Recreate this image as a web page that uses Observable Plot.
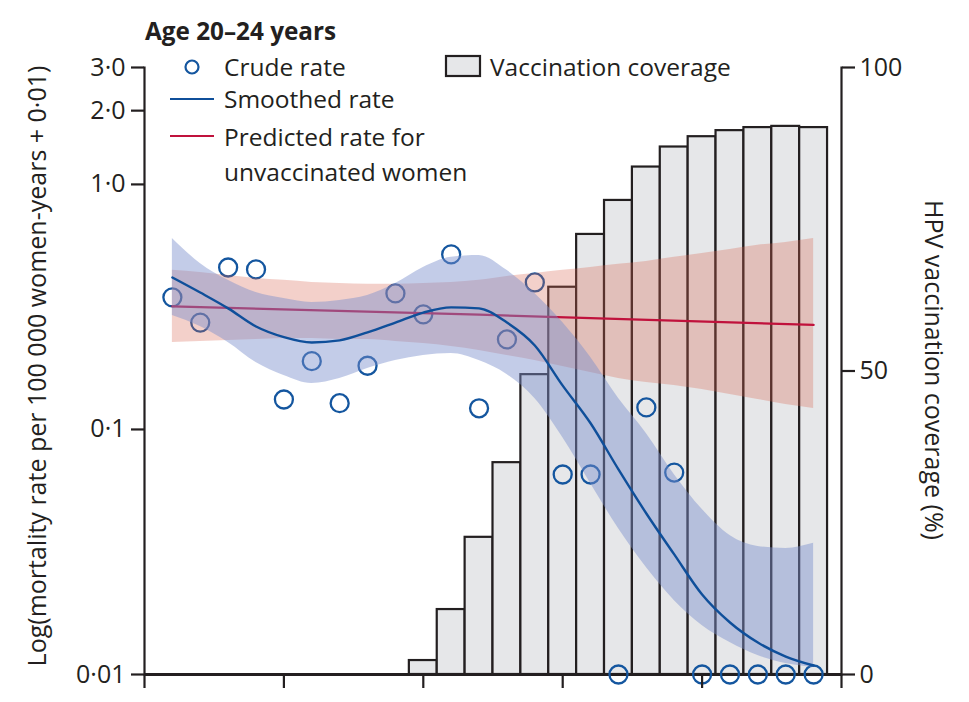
<!DOCTYPE html>
<html>
<head>
<meta charset="utf-8">
<script src="https://cdn.jsdelivr.net/npm/d3@7"></script>
<script src="https://cdn.jsdelivr.net/npm/@observablehq/plot@0.6"></script>
<style>
  body { margin: 0; background: #fff; }
  #chart { position: relative; width: 969px; height: 702px; overflow: hidden; font-family: "Open Sans", sans-serif; color: #231f20; }
  #chart > svg { position: absolute; left: 0; top: 0; }
</style>
</head>
<body>
<div id="chart"></div>
<script>
// ---------- data ----------
const years = [1996,1997,1998,1999,2000,2001,2002,2003,2004,2005,2006,2007,2008,2009,2010,2011,2012,2013,2014,2015,2016,2017,2018,2019];
// crude mortality rate per 100 000 women-years
const crudeRate = [0.336,0.263,0.448,0.440,0.1225,0.180,0.118,0.172,0.349,0.285,0.508,0.112,0.223,0.388,0.0555,0.0555,0,0.113,0.0567,0,0,0,0,0];
// smoothed rate and its band
const smoothedRate  = [0.407,0.352,0.302,0.253,0.228,0.2165,0.221,0.239,0.263,0.290,0.305,0.302,0.263,0.210,0.141,0.096,0.0587,0.0354,0.0209,0.0112,0.0063,0.0035,0.00184,0.00088];
const smoothedUpper = [0.592,0.466,0.396,0.352,0.3325,0.320,0.326,0.342,0.384,0.448,0.494,0.503,0.436,0.349,0.263,0.187,0.124,0.0863,0.0555,0.0372,0.0269,0.0233,0.0227,0.0243];
const smoothedLower = [0.282,0.253,0.2165,0.1777,0.156,0.144,0.1515,0.1674,0.1812,0.1904,0.1942,0.1812,0.1577,0.1238,0.0827,0.0502,0.0294,0.0173,0.01005,0.00585,0.00351,0.00195,0.00109,0.00068];
// predicted rate for unvaccinated women and its band
const predictedYears = [1996,2007,2019];
const predictedRate  = [0.308,0.284,0.257];
const predictedUpper = [0.436,0.427,0.415,0.403,0.396,0.388,0.384,0.381,0.381,0.384,0.388,0.396,0.411,0.423,0.436,0.448,0.462,0.475,0.494,0.513,0.533,0.554,0.570,0.592];
const predictedLower = [0.2165,0.2187,0.2208,0.2229,0.2251,0.2251,0.2229,0.2229,0.2187,0.2144,0.2082,0.2002,0.1904,0.1812,0.1707,0.1608,0.1515,0.1455,0.1412,0.1356,0.1289,0.1226,0.1165,0.1118];
// HPV vaccination coverage (%)
const coverageYears = [2005,2006,2007,2008,2009,2010,2011,2012,2013,2014,2015,2016,2017,2018,2019];
const coverage      = [2.3,10.7,22.6,34.9,49.4,63.8,72.5,78.1,83.6,86.9,88.6,89.6,90.1,90.3,90.1];
// axes
const xTicks = [1995,2000,2005,2010,2015,2020];
const yTicks = [0.01,0.1,1,2,3];
const yTickLabels = ["0·01","0·1","1·0","2·0","3·0"];
const covTicks = [0,50,100];
const offset = 0.01; // log(rate + 0·01)

// ---------- layout ----------
const W = 969, H = 702;
const M = {left: 144, right: 128, top: 67, bottom: 28};
const ink = "#231f20";
const blue = "#14569f", lineBlue = "#0f4f9a", crimson = "#c0123c";
const font = "'Open Sans', sans-serif";
const tickFs = 25;

const rows = years.map((year, i) => ({
  year,
  crude: crudeRate[i] + offset,
  smooth: smoothedRate[i] + offset,
  sLo: smoothedLower[i] + offset,
  sHi: smoothedUpper[i] + offset,
  pLo: predictedLower[i] + offset,
  pHi: predictedUpper[i] + offset
}));
const predRows = predictedYears.map((year, i) => ({year, v: predictedRate[i] + offset}));
const covRows = coverageYears.map((year, i) => ({year, cov: coverage[i]}));

const common = {
  width: W, height: H,
  marginLeft: M.left, marginRight: M.right, marginTop: M.top, marginBottom: M.bottom,
  style: {background: "transparent", fontFamily: font, fontSize: tickFs + "px", color: ink, overflow: "visible"}
};

// bars + right axis (linear coverage scale)
const barPlot = Plot.plot({
  ...common,
  x: {domain: [1995, 2020], axis: null},
  y: {domain: [0, 100], axis: null},
  marks: [
    Plot.rect(covRows, {x1: d => d.year - 0.5, x2: d => d.year + 0.5, y1: 0, y2: "cov", fill: "#e6e7e9", stroke: ink, strokeWidth: 2.2}),
    Plot.ruleY([0], {stroke: ink, strokeWidth: 3}),
    Plot.frame({anchor: "right", stroke: ink, strokeWidth: 2.2}),
    Plot.axisY({anchor: "right", ticks: covTicks, tickSize: 13, tickPadding: 5, label: null, stroke: ink, strokeWidth: 2.2, fontSize: tickFs, fill: ink})
  ]
});

// rates (log scale) + left axis
const ratePlot = Plot.plot({
  ...common,
  x: {domain: [1995, 2020]},
  y: {type: "log", domain: [0.01, 3]},
  marks: [
    Plot.dot(rows, {x: "year", y: "crude", r: 9, stroke: blue, strokeWidth: 2.3, fill: "none"}),
    Plot.areaY(rows, {x: "year", y1: "pLo", y2: "pHi", fill: "rgb(214,100,79)", fillOpacity: 0.3, curve: "monotone-x"}),
    Plot.line(predRows, {x: "year", y: "v", stroke: crimson, strokeWidth: 2.3}),
    Plot.areaY(rows, {x: "year", y1: "sLo", y2: "sHi", fill: "rgb(122,141,204)", fillOpacity: 0.45, curve: "monotone-x"}),
    Plot.line(rows, {x: "year", y: "smooth", stroke: lineBlue, strokeWidth: 2.4, curve: "monotone-x"}),
    Plot.frame({anchor: "left", stroke: ink, strokeWidth: 2.2}),
    Plot.axisY({ticks: yTicks, tickFormat: d => yTickLabels[yTicks.indexOf(d)], tickSize: 13, tickPadding: 6, label: null, stroke: ink, strokeWidth: 2.2, fontSize: tickFs, fill: ink}),
    Plot.axisX({ticks: xTicks, tickFormat: () => "", tickSize: 14, label: null, stroke: ink, strokeWidth: 2.2})
  ]
});

const chart = document.getElementById("chart");
chart.appendChild(barPlot);
chart.appendChild(ratePlot);

// ---------- title, legend and axis titles ----------
const svg = d3.select(chart).append("svg").attr("width", W).attr("height", H)
  .style("font-family", font).style("fill", ink);
const fs = 24.5;
svg.append("text").attr("x", 145).attr("y", 40).attr("font-size", 24.3).attr("font-weight", 700).text("Age 20–24 years");
svg.append("circle").attr("cx", 192).attr("cy", 67).attr("r", 6.5).attr("fill", "none").attr("stroke", blue).attr("stroke-width", 2.2);
svg.append("text").attr("x", 224).attr("y", 76).attr("font-size", fs).text("Crude rate");
svg.append("line").attr("x1", 170).attr("x2", 214).attr("y1", 99).attr("y2", 99).attr("stroke", lineBlue).attr("stroke-width", 2);
svg.append("text").attr("x", 224).attr("y", 108).attr("font-size", fs).text("Smoothed rate");
svg.append("line").attr("x1", 170).attr("x2", 214).attr("y1", 136).attr("y2", 136).attr("stroke", crimson).attr("stroke-width", 2);
svg.append("text").attr("x", 224).attr("y", 146).attr("font-size", fs).text("Predicted rate for");
svg.append("text").attr("x", 224).attr("y", 181).attr("font-size", fs).text("unvaccinated women");
svg.append("rect").attr("x", 446).attr("y", 56).attr("width", 34).attr("height", 20).attr("fill", "#e6e7e9").attr("stroke", ink).attr("stroke-width", 2.2);
svg.append("text").attr("x", 490).attr("y", 76).attr("font-size", fs).text("Vaccination coverage");
svg.append("text").attr("transform", "translate(46,366) rotate(-90)").attr("text-anchor", "middle").attr("font-size", 25)
  .text("Log(mortality rate per 100 000 women-years + 0·01)");
svg.append("text").attr("transform", "translate(925,370) rotate(90)").attr("text-anchor", "middle").attr("font-size", 25)
  .text("HPV vaccination coverage (%)");
</script>
</body>
</html>
